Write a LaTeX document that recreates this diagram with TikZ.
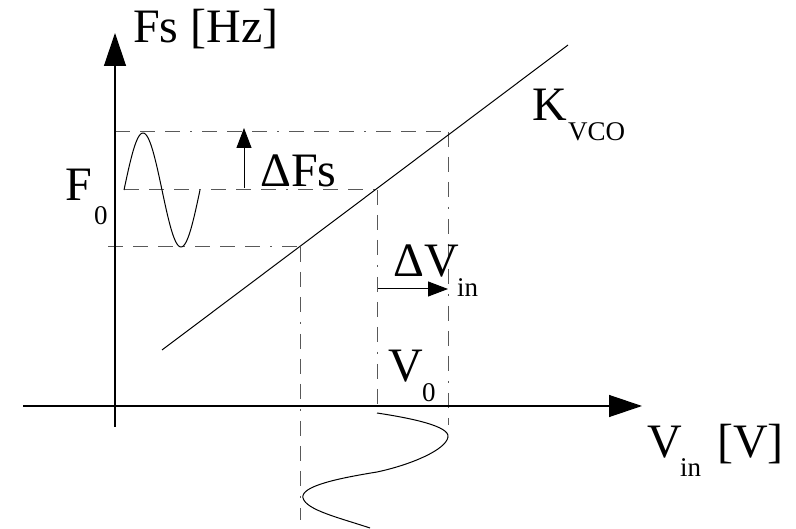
\documentclass[tikz,border=0pt]{standalone}
\usepackage{fontspec}
\setmainfont{Liberation Serif}
\usetikzlibrary{arrows.meta}
\tikzset{
  big/.style={font=\fontsize{48}{50}\selectfont, inner sep=0pt, anchor=base west},
  small/.style={font=\fontsize{27}{29}\selectfont, inner sep=0pt, anchor=base west},
  axis/.style={line width=1.3pt, -{Triangle[length=33pt,width=22pt]}},
  marker/.style={line width=1pt, -{Triangle[length=20pt,width=15pt]}},
  guide/.style={line width=1pt, draw=black!65, dash pattern=on 15pt off 10pt on 15pt off 10pt on 15pt off 10pt on 2pt off 10pt},
  curve/.style={line width=1pt}
}
\begin{document}
\begin{tikzpicture}[x=1pt,y=-1pt]
\useasboundingbox (0,0) rectangle (796,529);
% coordinates
\coordinate (yb) at (115,427);
\coordinate (yt) at (115,33);
\coordinate (xl) at (23,406);
\coordinate (xr) at (642,406);
\coordinate (ka) at (162,350);
\coordinate (kb) at (568,45);
\coordinate (ht0) at (115,132);
\coordinate (ht1) at (448,132);
\coordinate (hm0) at (124,190);
\coordinate (hm1) at (377,190);
\coordinate (hb0) at (108,247);
\coordinate (hb1) at (300,247);
\coordinate (vb1) at (300,520);
\coordinate (vm1) at (377,405);
\coordinate (vt1) at (448,425);
\coordinate (fa) at (244,188);
\coordinate (fb) at (244,128);
\coordinate (va) at (378,289);
\coordinate (vb) at (448,289);
\coordinate (s0) at (377,413);
\coordinate (s1) at (448,437);
\coordinate (s2) at (377,472);
\coordinate (s3) at (303,498);
\coordinate (s4) at (370,528);
% guides
\draw[guide] (ht0) -- (ht1);
\draw[guide] (hm0) -- (hm1);
\draw[guide] (hb0) -- (hb1);
\draw[guide] (hb1) -- (vb1);
\draw[guide] (hm1) -- (vm1);
\draw[guide] (ht1) -- (vt1);
% axes
\draw[axis] (yb) -- (yt);
\draw[axis] (xl) -- (xr);
% characteristic
\draw[curve] (ka) -- (kb);
% left sine
\draw[curve] plot[domain=0:360, samples=90, smooth, variable=\t] ({124 + 0.21111*\t}, {190 - 57*sin(\t)});
% bottom sine
\draw[curve] (s0) .. controls (410,418) and (450,426) .. (s1)
  .. controls (446,450) and (410,465) .. (s2)
  .. controls (340,478) and (300,486) .. (s3)
  .. controls (306,510) and (340,518) .. (s4);
% markers
\draw[marker] (fa) -- (fb);
\draw[marker] (va) -- (vb);
% labels
\node[big] (lfs) at (133,43) {Fs [Hz]};
\node[big] (lf) at (65,201) {F};
\node[small] (lf0) at (94,225) {0};
\node[big] (ldf) at (260,187) {ΔFs};
\node[big] (lk) at (532,121) {K};
\node[small] (lvco) at (568,141) {VCO};
\node[big] (ldv) at (393,277) {ΔV};
\node[small] (ldvin) at (457,297) {in};
\node[big] (lv0) at (388,382) {V};
\node[small] (lv00) at (422,402) {0};
\node[big] (lvin) at (647,457) {V};
\node[small] (lvinsub) at (680,477) {in};
\node[big] (lvu) at (717,457) {[V]};
\end{tikzpicture}
\end{document}
